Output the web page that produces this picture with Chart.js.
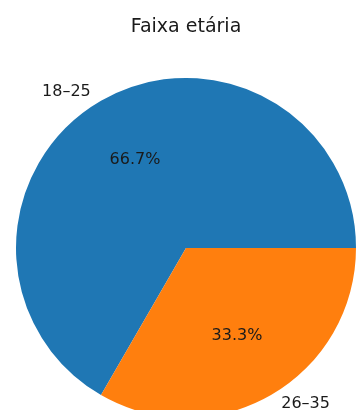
<!DOCTYPE html>
<html>
<head>
<meta charset="utf-8">
<script src="https://cdn.jsdelivr.net/npm/chart.js@4"></script>
<style>
  html, body { margin: 0; padding: 0; background: #fff; overflow: hidden; }
  #wrap { width: 356px; height: 410px; position: relative; }
</style>
</head>
<body>
<div id="wrap"><canvas id="myChart"></canvas></div>
<script>
  // Dados
  const categorias = ['18–25', '26–35'];
  const valores = [2, 1];
  const cores = ['#1f77b4', '#ff7f0e'];
  const titulo = 'Faixa etária';

  // rótulos no estilo matplotlib: nome fora da fatia, porcentagem a 0.6r
  const rotulosPizza = {
    id: 'rotulosPizza',
    afterDatasetsDraw(chart) {
      const ctx = chart.ctx;
      const meta = chart.getDatasetMeta(0);
      const total = valores.reduce((a, b) => a + b, 0);
      ctx.save();
      ctx.font = '16px "DejaVu Sans"';
      ctx.fillStyle = '#1a1a1a';
      ctx.textBaseline = 'middle';
      meta.data.forEach((arc, i) => {
        const p = arc.getProps(['x', 'y', 'startAngle', 'endAngle', 'outerRadius'], true);
        const mid = (p.startAngle + p.endAngle) / 2;
        const cx = Math.cos(mid), cy = Math.sin(mid);
        ctx.textAlign = cx < 0 ? 'right' : 'left';
        ctx.fillText(categorias[i], p.x + cx * p.outerRadius * 1.12, p.y + cy * p.outerRadius * 1.06);
        ctx.textAlign = 'center';
        const pct = (valores[i] / total * 100).toFixed(1) + '%';
        ctx.fillText(pct, p.x + cx * p.outerRadius * 0.6, p.y + cy * p.outerRadius * 0.6);
      });
      ctx.restore();
    }
  };

  const ctx = document.getElementById('myChart').getContext('2d');
  const myChart = new Chart(ctx, {
    type: 'pie',
    data: {
      labels: categorias,
      datasets: [{
        data: valores,
        backgroundColor: cores,
        borderWidth: 0,
        radius: 170
      }]
    },
    options: {
      responsive: true,
      maintainAspectRatio: false,
      animation: false,
      rotation: 210,
      layout: { padding: { left: 16, right: 0, top: 0, bottom: 0 } },
      events: [],
      plugins: {
        legend: { display: false },
        tooltip: { enabled: false },
        title: {
          display: true,
          text: titulo,
          color: '#1a1a1a',
          font: { family: 'DejaVu Sans', size: 19, weight: 'normal' },
          padding: { top: 16, bottom: 47 }
        }
      }
    },
    plugins: [rotulosPizza]
  });
</script>
</body>
</html>
